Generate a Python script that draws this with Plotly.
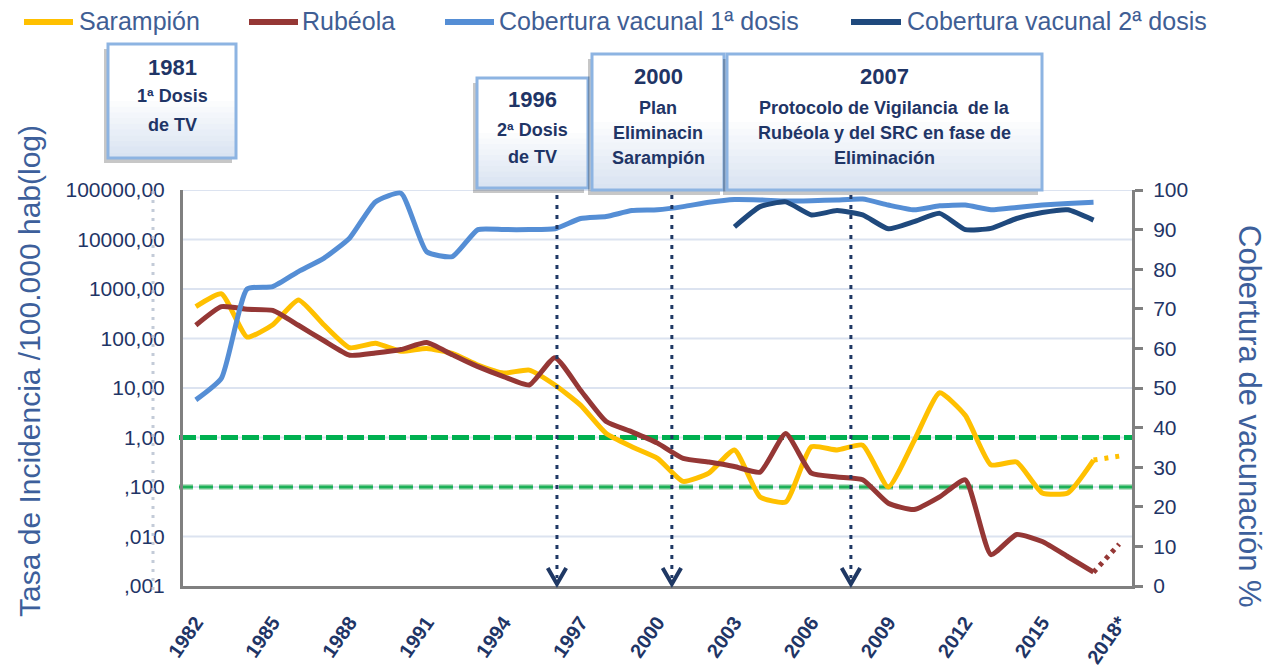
import plotly.graph_objects as go

# ---------------- DATA ----------------
years = list(range(1982, 2018))
sarampion = [440, 800, 107, 190, 600, 187, 65, 80, 55, 63, 50, 29, 20, 23, 11.5, 4.5,
             1.2, 0.65, 0.38, 0.13, 0.19, 0.56, 0.063, 0.05, 0.65, 0.56, 0.7, 0.10,
             0.85, 8.0, 2.8, 0.28, 0.32, 0.076, 0.076, 0.35]
rubeola = [185, 440, 390, 370, 185, 90, 46, 51, 60, 83, 47, 27, 17, 11.5, 41, 9,
           2.1, 1.3, 0.77, 0.38, 0.32, 0.26, 0.20, 1.2, 0.19, 0.16, 0.14, 0.047,
           0.035, 0.063, 0.14, 0.0043, 0.011, 0.0079, 0.0039, 0.0019]
cob1 = [47, 52.5, 75, 75.6, 79.4, 82.8, 87.9, 97, 99.2, 84.4, 83.2, 90, 90, 90, 90.2,
        92.8, 93.3, 94.8, 95, 95.8, 96.9, 97.6, 97.5, 97.2, 97.3, 97.5, 97.7, 96.2,
        95, 96, 96.2, 95, 95.6, 96.2, 96.6, 96.9]
cob2_years = list(range(2003, 2018))
cob2 = [90.7, 95.8, 97, 93.7, 94.8, 93.7, 90.2, 92, 94.1, 90, 90.3, 92.8, 94.3, 95, 92.4]
prov_years = [2017, 2018]
sarampion_prov = [0.35, 0.42]
rubeola_prov = [0.0019, 0.007]
thresholds = [1.0, 0.1]
xtick_vals = list(range(1982, 2019, 3))
xtick_text = [str(v) for v in xtick_vals[:-1]] + ["2018*"]
ytick_vals = [1e5, 1e4, 1e3, 100, 10, 1, 0.1, 0.01, 0.001]
ytick_text = ["100000,00", "10000,00", "1000,00", "100,00", "10,00", "1,00", ",100", ",010", ",001"]
y2_ticks = list(range(0, 101, 10))
event_years = [1996.08, 2000.56, 2007.54]
series_names = ["Sarampión", "Rubéola", "Cobertura vacunal 1ª dosis", "Cobertura vacunal 2ª dosis"]
box_texts = [
    ["1981", "1ª Dosis", "de TV"],
    ["1996", "2ª Dosis", "de TV"],
    ["2000", "Plan", "Eliminacin", "Sarampión"],
    ["2007", "Protocolo de Vigilancia  de la", "Rubéola y del SRC en fase de", "Eliminación"],
]

# ---------------- STYLE / LAYOUT ----------------
FONT = "Liberation Sans, Arial, sans-serif"
C_YEL, C_RED, C_BLU1, C_BLU2 = "#FFC000", "#953735", "#558ED5", "#1F497D"
C_TXT = "#1F3566"
C_TITLE = "#3D5F9B"
C_AX = "#808080"
W, H = 1268, 668
PL, PR, PT, PB = 183, 1132, 190, 586


def px(x):
    return (x - PL) / (PR - PL)


def py(y):
    return (PB - y) / (PB - PT)


fig = go.Figure()
fig.add_trace(go.Scatter(x=years, y=sarampion, name=series_names[0], mode="lines",
                         line=dict(color=C_YEL, width=5, shape="spline", smoothing=0.5)))
fig.add_trace(go.Scatter(x=years, y=rubeola, name=series_names[1], mode="lines",
                         line=dict(color=C_RED, width=5, shape="spline", smoothing=0.5)))
fig.add_trace(go.Scatter(x=prov_years, y=sarampion_prov, mode="lines", showlegend=False,
                         line=dict(color=C_YEL, width=5, dash="4px,7px")))
fig.add_trace(go.Scatter(x=prov_years, y=rubeola_prov, mode="lines", showlegend=False,
                         line=dict(color=C_RED, width=5, dash="4px,5px")))
fig.add_trace(go.Scatter(x=years, y=cob1, name=series_names[2], mode="lines", yaxis="y2",
                         line=dict(color=C_BLU1, width=5, shape="spline", smoothing=0.5)))
fig.add_trace(go.Scatter(x=cob2_years, y=cob2, name=series_names[3], mode="lines", yaxis="y2",
                         line=dict(color=C_BLU2, width=5, shape="spline", smoothing=0.5)))

shapes = []
annotations = []

# gridlines (drawn as shapes so the threshold lines sit on top of them)
for gv in ytick_vals[:-1]:
    shapes.append(dict(type="line", xref="paper", yref="y", x0=0, x1=1, y0=gv, y1=gv,
                       line=dict(color="#DCE3F0", width=2), layer="below"))

# threshold lines
shapes.append(dict(type="line", xref="paper", yref="y", x0=px(179), x1=1, y0=thresholds[0], y1=thresholds[0],
                   line=dict(color="#00B050", width=5, dash="17px,4px"), layer="below"))
shapes.append(dict(type="line", xref="paper", yref="y", x0=px(179), x1=1, y0=thresholds[1], y1=thresholds[1],
                   line=dict(color="#B8E0C4", width=6, dash="14px,6px"), layer="below"))
shapes.append(dict(type="line", xref="paper", yref="y", x0=px(179), x1=1, y0=thresholds[1], y1=thresholds[1],
                   line=dict(color="#1DB057", width=3, dash="14px,6px"), layer="below"))

# left dotted guide line
shapes.append(dict(type="line", xref="paper", yref="paper", x0=px(153), x1=px(153), y0=py(590), y1=1,
                   line=dict(color="#C3CBD8", width=3, dash="3px,6px"), layer="above"))

# event arrows
for ex in event_years:
    shapes.append(dict(type="line", xref="x", yref="paper", x0=ex, x1=ex, y0=py(195), y1=py(578),
                       line=dict(color="#1F3864", width=3, dash="4px,6px"), layer="above"))
    shapes.append(dict(type="path", xref="x", yref="paper",
                       path=f"M {ex-0.36},{py(568)} L {ex},{py(584)} L {ex+0.36},{py(568)}",
                       line=dict(color="#1F3864", width=4), layer="above"))

# boxes
box_geo = [(108, 236, 44, 158), (477, 588, 78, 188), (592, 724, 54, 190), (727, 1042, 54, 190)]
line_ys = [[68, 96, 125], [100, 130, 157], [76, 108, 133, 158], [76, 108, 133, 158]]
for (x0, x1, y0, y1), texts, ys in zip(box_geo, box_texts, line_ys):
    shapes.append(dict(type="rect", xref="paper", yref="paper", x0=px(x0 - 4), x1=px(x1 - 4),
                       y0=py(y1 + 5), y1=py(y0 + 5), fillcolor="rgba(0,0,0,0.22)", line=dict(width=0),
                       layer="above"))
    shapes.append(dict(type="rect", xref="paper", yref="paper", x0=px(x0), x1=px(x1),
                       y0=py(y1), y1=py(y0), fillcolor="#FFFFFF", line=dict(width=0), layer="above"))
    nb = 10
    h = (y1 - y0) * 0.5
    for i in range(nb):
        t = (i + 1) / nb
        r = int(255 + (218 - 255) * t)
        g = int(255 + (228 - 255) * t)
        b = int(255 + (242 - 255) * t)
        ya = y0 + (y1 - y0) - h + h * i / nb
        yb = ya + h / nb + 0.5
        shapes.append(dict(type="rect", xref="paper", yref="paper", x0=px(x0), x1=px(x1),
                           y0=py(yb), y1=py(ya), fillcolor=f"rgb({r},{g},{b})", line=dict(width=0),
                           layer="above"))
    shapes.append(dict(type="rect", xref="paper", yref="paper", x0=px(x0), x1=px(x1),
                       y0=py(y1), y1=py(y0), fillcolor="rgba(0,0,0,0)",
                       line=dict(color="#8DB4E2", width=3), layer="above"))
    cx = (x0 + x1) / 2
    for k, (txt, yy) in enumerate(zip(texts, ys)):
        annotations.append(dict(xref="paper", yref="paper", x=px(cx), y=py(yy), text=txt, showarrow=False,
                                xanchor="center", yanchor="middle",
                                font=dict(family=FONT, size=22 if k == 0 else 18, color=C_TXT, weight="bold")))

# manual legend
legend_geo = [(24, 73, 77), (249, 298, 300), (445, 494, 497), (851, 901, 905)]
legend_cols = [C_YEL, C_RED, C_BLU1, C_BLU2]
for (l0, l1, tx), col, name in zip(legend_geo, legend_cols, series_names):
    shapes.append(dict(type="line", xref="paper", yref="paper", x0=px(l0), x1=px(l1), y0=py(22), y1=py(22),
                       line=dict(color=col, width=6)))
    annotations.append(dict(xref="paper", yref="paper", x=px(tx), y=py(21), text=name, showarrow=False,
                            xanchor="left", yanchor="middle",
                            font=dict(family=FONT, size=25, color="#3F5E94")))

# axis titles
annotations.append(dict(xref="paper", yref="paper", x=px(29), y=py(371),
                        text="Tasa de Incidencia /100.000 hab(log)", textangle=-90, showarrow=False,
                        xanchor="center", yanchor="middle", font=dict(family=FONT, size=30, color=C_TITLE)))
annotations.append(dict(xref="paper", yref="paper", x=px(1250), y=py(416),
                        text="Cobertura de vacunación %", textangle=90, showarrow=False,
                        xanchor="center", yanchor="middle", font=dict(family=FONT, size=31, color=C_TITLE)))

fig.update_layout(
    width=W, height=H,
    margin=dict(l=PL, r=W - PR, t=PT, b=H - PB, pad=0, autoexpand=False),
    paper_bgcolor="white", plot_bgcolor="white",
    showlegend=False,
    font=dict(family=FONT),
    xaxis=dict(range=[1981.5, 2018.5], tickvals=xtick_vals, ticktext=xtick_text, tickangle=-55,
               tickfont=dict(family=FONT, size=20, color=C_TXT, weight="bold"),
               showline=True, linecolor=C_AX, linewidth=3, showgrid=False, zeroline=False,
               ticks="", ticklabelstandoff=14, automargin=False),
    yaxis=dict(type="log", range=[-3, 5], tickvals=ytick_vals, ticktext=ytick_text,
               tickfont=dict(family=FONT, size=21, color=C_TXT),
               showline=True, linecolor=C_AX, linewidth=3, showgrid=False,
               zeroline=False, ticks="", ticklabelstandoff=11, automargin=False),
    yaxis2=dict(overlaying="y", side="right", anchor="x", range=[0, 100], tickvals=y2_ticks,
                tickfont=dict(family=FONT, size=21, color=C_TXT), showgrid=False, zeroline=False,
                showline=True, linecolor=C_AX, linewidth=3, ticks="outside", ticklen=8, tickwidth=3,
                tickcolor=C_AX, ticklabelstandoff=6, automargin=False),
    yaxis3=dict(overlaying="y", side="right", anchor="x", range=[0, 100], tickvals=y2_ticks,
                showticklabels=False, showgrid=False, zeroline=False, showline=False,
                ticks="inside", ticklen=8, tickwidth=3, tickcolor=C_AX, automargin=False),
    shapes=shapes,
    annotations=annotations,
)

fig.write_html("out.html", config={"displayModeBar": False},
               post_script="document.body.style.margin='0px';")
